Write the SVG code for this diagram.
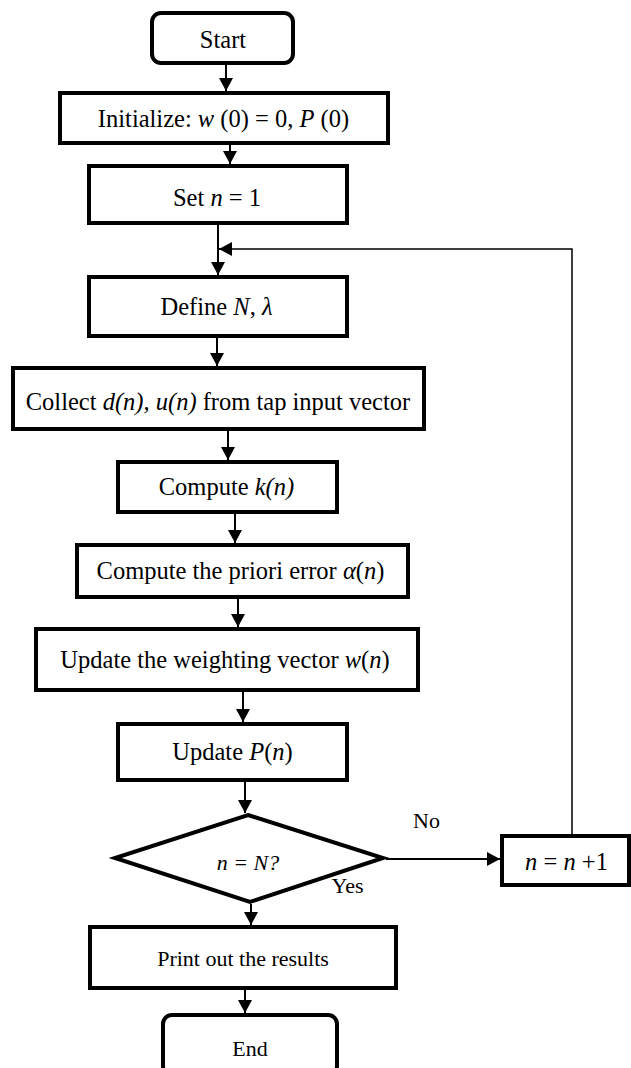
<svg xmlns="http://www.w3.org/2000/svg" width="631" height="1068" viewBox="0 0 631 1068">
<style>
.box{fill:#fff;stroke:#000;stroke-width:4}
.t{font-family:"Liberation Serif","Times New Roman",serif;font-size:24.5px;fill:#000;text-anchor:middle}
.s{font-size:22px}
.i{font-style:italic}
.c{fill:none;stroke:#000;stroke-width:2}
.thin{fill:none;stroke:#000;stroke-width:1.5}
</style>
<defs>
<marker id="ah" markerUnits="userSpaceOnUse" markerWidth="14" markerHeight="14" refX="13" refY="7" orient="auto">
<path d="M0,0 L13,7 L0,14 z" fill="#000"/>
</marker>
</defs>
<g id="connectors">
<line class="c" x1="226" y1="64" x2="226" y2="91" marker-end="url(#ah)"/>
<line class="c" x1="230" y1="145" x2="230" y2="164" marker-end="url(#ah)"/>
<line class="c" x1="218" y1="225" x2="218" y2="275" marker-end="url(#ah)"/>
<line class="c" x1="217" y1="338" x2="217" y2="366" marker-end="url(#ah)"/>
<line class="c" x1="228" y1="431" x2="228" y2="460" marker-end="url(#ah)"/>
<line class="c" x1="235" y1="514" x2="235" y2="543" marker-end="url(#ah)"/>
<line class="c" x1="238" y1="599" x2="238" y2="627" marker-end="url(#ah)"/>
<line class="c" x1="243" y1="692" x2="243" y2="722" marker-end="url(#ah)"/>
<line class="c" x1="245" y1="782" x2="245" y2="813" marker-end="url(#ah)"/>
<line class="c" x1="251" y1="904" x2="251" y2="925" marker-end="url(#ah)"/>
<line class="c" x1="245" y1="990" x2="245" y2="1013" marker-end="url(#ah)"/>
<line class="c" x1="386" y1="859" x2="500" y2="859" marker-end="url(#ah)"/>
<polyline class="thin" points="572,834 572,249 232,249"/>
<line class="c" x1="232" y1="249" x2="219" y2="249" marker-end="url(#ah)"/>
</g>
<g id="start">
<rect class="box" x="152" y="13" width="141" height="50" rx="9"/>
<text class="t" x="223" y="48">Start</text>
</g>
<g id="init">
<rect class="box" x="60" y="93" width="328" height="50"/>
<text class="t" x="223.5" y="127">Initialize: <tspan class="i">w</tspan> (0) = 0, <tspan class="i">P</tspan> (0)</text>
</g>
<g id="setn">
<rect class="box" x="89" y="166" width="258" height="57"/>
<text class="t" x="217" y="206">Set <tspan class="i">n</tspan> = 1</text>
</g>
<g id="define">
<rect class="box" x="89" y="277" width="258" height="59"/>
<text class="t" x="216.5" y="315">Define <tspan class="i">N</tspan>, <tspan class="i">λ</tspan></text>
</g>
<g id="collect">
<rect class="box" x="13" y="368" width="411" height="61"/>
<text class="t" x="218" y="410">Collect <tspan class="i">d(n),</tspan> <tspan class="i">u(n)</tspan> from tap input vector</text>
</g>
<g id="computek">
<rect class="box" x="118" y="462" width="219" height="50"/>
<text class="t" x="226.5" y="495">Compute <tspan class="i">k(n)</tspan></text>
</g>
<g id="priori">
<rect class="box" x="77" y="545" width="331" height="52"/>
<text class="t" x="240.5" y="579">Compute the priori error <tspan class="i">α</tspan>(<tspan class="i">n</tspan>)</text>
</g>
<g id="weight">
<rect class="box" x="36" y="629" width="382" height="61"/>
<text class="t" x="225" y="668">Update the weighting vector <tspan class="i">w</tspan>(<tspan class="i">n</tspan>)</text>
</g>
<g id="updatep">
<rect class="box" x="118" y="724" width="229" height="56"/>
<text class="t" x="232.5" y="760">Update <tspan class="i">P</tspan>(<tspan class="i">n</tspan>)</text>
</g>
<g id="decision">
<polygon class="box" points="248,815 383,858 250,902 115,858"/>
<text class="t s i" x="248" y="870">n = N?</text>
</g>
<g id="labels">
<text class="t s" x="347.5" y="893">Yes</text>
<text class="t s" x="426.5" y="828">No</text>
</g>
<g id="incr">
<rect class="box" x="502" y="836" width="127" height="49"/>
<text class="t" x="566.5" y="870"><tspan class="i">n</tspan> = <tspan class="i">n</tspan> +1</text>
</g>
<g id="print">
<rect class="box" x="90" y="927" width="306" height="61"/>
<text class="t s" x="243" y="966">Print out the results</text>
</g>
<g id="end">
<rect class="box" x="163" y="1015" width="174" height="60" rx="9"/>
<text class="t s" x="250" y="1056">End</text>
</g>
</svg>
